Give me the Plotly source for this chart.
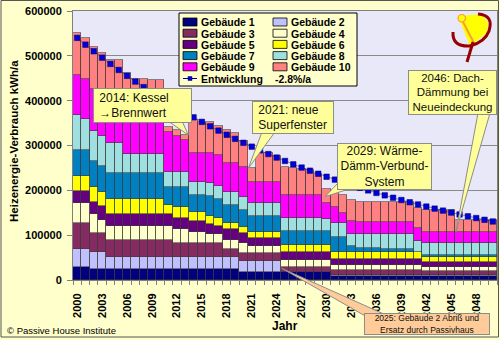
import plotly.graph_objects as go

# ---------------- data (kWh/a) ----------------
years = list(range(2000, 2051))
tick_years = [2000, 2003, 2006, 2009, 2012, 2015, 2018, 2021, 2024, 2027,
              2030, 2033, 2036, 2039, 2042, 2045, 2048]

g1 = [30000, 30000, 24000, 24000, 24000, 24000, 24000, 24000, 24000, 24000,
      24000, 24000, 24000, 24000, 24000, 24000, 24000, 24000, 24000, 24000,
      18600, 18600, 18600, 18600, 18600, 17000, 17000, 17000, 17000, 17000,
      17000, 10000, 10000, 10000, 10000, 10000, 10000, 10000, 10000, 10000,
      10000, 10000, 10000, 10000, 10000, 10000, 10000, 10000, 10000, 10000,
      10000]
g2 = [39000, 39000, 39000, 39000, 27000, 27000, 27000, 27000, 27000, 27000,
      27000, 27000, 27000, 27000, 27000, 27000, 27000, 27000, 27000, 27000,
      24400, 24400, 24400, 24400, 24400, 1500, 1500, 1500, 1500, 1500,
      1500, 1500, 1500, 1500, 1500, 1500, 1500, 1500, 1500, 1500,
      1500, 1500, 1500, 1500, 1500, 1500, 1500, 1500, 1500, 1500,
      1500]
g3 = [59000, 59000, 41000, 41000, 38000, 38000, 38000, 38000, 38000, 38000,
      38000, 38000, 32000, 32000, 32000, 32000, 32000, 32000, 17500, 17500,
      16600, 16600, 16600, 16600, 16600, 11500, 11500, 11500, 11500, 11500,
      11500, 10500, 10500, 10500, 10500, 10500, 10500, 10500, 10500, 10500,
      10500, 10500, 9000, 9000, 9000, 9000, 9000, 9000, 9000, 9000,
      9000]
g4 = [43000, 43000, 43000, 30000, 31600, 31600, 31600, 31600, 31600, 31600,
      31600, 31600, 31000, 31000, 23000, 23000, 20000, 20000, 20500, 20500,
      22400, 17100, 17100, 17100, 17100, 15000, 15000, 15000, 15000, 15000,
      15000, 11500, 11500, 11500, 11500, 11500, 11500, 11500, 11500, 11500,
      11500, 11500, 9500, 9500, 9500, 9500, 9500, 9500, 9500, 9500,
      9500]
g5 = [28000, 28000, 28000, 30000, 26400, 26400, 26400, 26400, 26400, 26400,
      26400, 26400, 25000, 25000, 26500, 26500, 22000, 17600, 24000, 24000,
      22000, 16300, 16300, 16300, 16300, 18000, 18000, 18000, 18000, 18000,
      18000, 13500, 13500, 13500, 13500, 13500, 13500, 13500, 13500, 13500,
      13500, 13500, 10000, 10000, 10000, 10000, 10000, 10000, 10000, 10000,
      10000]
g6 = [34000, 34000, 33000, 32000, 33000, 33000, 33000, 33000, 33000, 33000,
      33000, 20000, 23000, 23000, 19500, 19500, 18000, 17100, 15000, 15000,
      13600, 15000, 15000, 15000, 15000, 14000, 14000, 14000, 14000, 14000,
      14000, 14500, 14500, 14500, 14500, 14500, 14500, 14500, 14500, 14500,
      14500, 14500, 12000, 12000, 12000, 12000, 12000, 12000, 12000, 12000,
      12000]
g7 = [57000, 57000, 58000, 58000, 58000, 58000, 58000, 58000, 58000, 58000,
      58000, 41000, 46000, 46000, 38000, 38000, 45000, 42300, 39000, 39000,
      38400, 35000, 35000, 35000, 35000, 32000, 32000, 32000, 32000, 32000,
      32000, 34000, 34000, 14000, 9000, 9000, 9000, 8000, 8000, 8000,
      8000, 2000, 4000, 4000, 4000, 4000, 4000, 4000, 4000, 4000,
      4000]
g8 = [78000, 69000, 67000, 67000, 68000, 68000, 43000, 43000, 43000, 43000,
      43000, 32000, 32000, 32000, 29000, 29000, 28000, 30000, 30000, 30000,
      30000, 28000, 28000, 28000, 28000, 30000, 30000, 30000, 30000, 30000,
      28000, 31000, 31000, 28000, 31500, 31500, 31500, 32500, 32500, 32500,
      32500, 24500, 27000, 27000, 27000, 27000, 27000, 27000, 27000, 27000,
      27000]
g9 = [90000, 90000, 93000, 90000, 90000, 90000, 90000, 90000, 90000, 90000,
      90000, 90000, 82000, 72000, 64000, 64000, 67000, 69000, 63000, 63000,
      67000, 48000, 48000, 48000, 48000, 50000, 50000, 50000, 50000, 50000,
      35000, 35500, 23500, 28000, 28000, 28000, 28000, 28000, 28000, 28000,
      28000, 27000, 25000, 25000, 25000, 25000, 25000, 25000, 25000, 25000,
      25000]
g10 = [92000, 91000, 94000, 95000, 94000, 94000, 90000, 77000, 77000, 75000,
       75000, 12000, 13000, 12000, 74000, 70000, 69000, 64000, 74000, 67000,
       57000, 30000, 64000, 64000, 57000, 63000, 61000, 59000, 57000, 47000,
       30000, 35000, 40000, 47000, 45000, 45000, 45000, 45000, 43000, 43000,
       43000, 45000, 48000, 48000, 48000, 48000, 26000, 26000, 26000, 26000,
       26000]
trend = [540000, 524900, 510200, 495900, 482000, 468500, 455400, 442600, 430200, 418200,
         406500, 395100, 384000, 373300, 362800, 352700, 342800, 333200, 323900, 314800,
         306000, 297400, 289100, 281000, 273100, 265500, 258000, 250800, 243800, 237000,
         230300, 223900, 217600, 211500, 205600, 199800, 194200, 188800, 183500, 178400,
         173400, 168500, 163800, 159200, 154800, 150400, 146200, 142100, 138200, 134300,
         130500]

names = ["Gebäude 1", "Gebäude 2", "Gebäude 3", "Gebäude 4", "Gebäude 5",
         "Gebäude 6", "Gebäude 7", "Gebäude 8", "Gebäude 9", "Gebäude 10"]
series = [g1, g2, g3, g4, g5, g6, g7, g8, g9, g10]
colors = ["#000080", "#C0C0FF", "#862A62", "#FFFFCC", "#660080",
          "#FFFF00", "#0080C0", "#9FDFDF", "#FF00FF", "#FF8080"]
trend_name = "Entwicklung"
trend_rate = "-2.8%/a"

FONT = "Liberation Sans, Arial, sans-serif"

# ---------------- geometry helpers (pixels -> paper) ----------------
L, R, T, B = 73, 497, 11, 280
W, H = R - L, B - T


def px(x):
    return (x - L) / W


def py(y):
    return (B - y) / H


def path(points):
    return "M " + " L ".join(f"{px(x):.5f},{py(y):.5f}" for x, y in points) + " Z"


fig = go.Figure()
for nm, vals, col in zip(names, series, colors):
    fig.add_trace(go.Bar(x=years, y=vals, name=nm, showlegend=False,
                         marker=dict(color=col, line=dict(color="#3a3a3a", width=0.6))))
fig.add_trace(go.Scatter(x=years, y=trend, name=trend_name, mode="lines+markers",
                         showlegend=False,
                         line=dict(color="#202090", width=0.5),
                         marker=dict(symbol="square", size=5.5, color="#0000DD",
                                     line=dict(color="#000060", width=0.5))))

shapes = []
annotations = []

# outer frame
shapes.append(dict(type="rect", xref="paper", yref="paper", x0=px(1), y0=py(337), x1=px(498.5), y1=py(0.5),
                   line=dict(color="#555555", width=1), layer="above"))

# ---------------- legend (drawn) ----------------
shapes.append(dict(type="rect", xref="paper", yref="paper", x0=px(179), y0=py(86), x1=px(357), y1=py(13),
                   fillcolor="#FFFFCC", line=dict(color="#000000", width=1), layer="above"))
row_y = [22.0, 33.2, 44.4, 55.6, 66.8]
for i, (nm, col) in enumerate(zip(names, colors)):
    r, c = divmod(i, 2)
    x0 = 183 if c == 0 else 273
    yc = row_y[r]
    shapes.append(dict(type="rect", xref="paper", yref="paper", x0=px(x0), x1=px(x0 + 14),
                       y0=py(yc + 4), y1=py(yc - 4), fillcolor=col,
                       line=dict(color="#000000", width=0.8), layer="above"))
    annotations.append(dict(xref="paper", yref="paper", x=px(x0 + 16), y=py(yc + 0.5), text=nm,
                            xanchor="left", yanchor="middle", showarrow=False,
                            font=dict(family=FONT, size=10.5, color="#000", weight="bold")))
ye = 78.5
shapes.append(dict(type="line", xref="paper", yref="paper", x0=px(183), x1=px(197), y0=py(ye), y1=py(ye),
                   line=dict(color="#000080", width=1), layer="above"))
shapes.append(dict(type="rect", xref="paper", yref="paper", x0=px(188), x1=px(192), y0=py(ye + 2), y1=py(ye - 2),
                   fillcolor="#0000DD", line=dict(color="#000060", width=0.5), layer="above"))
annotations.append(dict(xref="paper", yref="paper", x=px(199), y=py(ye + 0.5), text=trend_name,
                        xanchor="left", yanchor="middle", showarrow=False,
                        font=dict(family=FONT, size=10.5, color="#000", weight="bold")))
annotations.append(dict(xref="paper", yref="paper", x=px(273), y=py(ye + 0.5), text=trend_rate,
                        xanchor="left", yanchor="middle", showarrow=False,
                        font=dict(family=FONT, size=10.5, color="#000", weight="bold")))

# ---------------- callouts ----------------
CALL_FILL = "#FFFF99"
CALL_LINE = "#8C8C8C"


def callout(box, text, tail, align="left", fill=CALL_FILL, size=12, pad=2):
    x0, y0, x1, y1 = box
    shapes.append(dict(type="path", xref="paper", yref="paper", path=path(tail),
                       fillcolor=fill, line=dict(color=CALL_LINE, width=1), layer="above"))
    annotations.append(dict(xref="paper", yref="paper", x=px((x0 + x1) / 2), y=py((y0 + y1) / 2),
                            xanchor="center", yanchor="middle",
                            text=text, showarrow=False, align=align, valign="middle",
                            width=(x1 - x0) - 2 * pad - 2, height=(y1 - y0) - 2 * pad - 2,
                            bgcolor=fill, bordercolor=CALL_LINE, borderwidth=1, borderpad=pad,
                            font=dict(family=FONT, size=size, color="#111")))


callout((93, 88, 192, 123), " 2014: Kessel<br> →Brennwert",
        [(188.3, 135), (182, 121), (168, 121)])
callout((252, 101, 334, 134), " 2021: neue<br> Superfenster",
        [(248.3, 168.3), (262, 132), (275, 132)])
callout((337, 143, 432, 190), "2029: Wärme-<br>Dämm-Verbund-<br>System",
        [(325, 196.7), (339, 182), (352, 188)], align="center")
callout((408, 70, 497, 115), "2046: Dach-<br>Dämmung bei<br>Neueindeckung",
        [(456, 231.7), (478, 113), (490, 113)], align="center", size=11.5, pad=1)
callout((364, 313, 490, 335), "2025: Gebäude 2 Abriß und<br>Ersatz durch Passivhaus",
        [(281.7, 268.3), (367, 317), (386, 315)], align="center", fill="#FFCC99", size=8.5, pad=0)

# ---------------- logo ----------------
shapes.append(dict(type="path", xref="paper", yref="paper",
                   path=path([(458, 16), (481, 14), (488, 22), (487, 33), (470, 46)]),
                   fillcolor="#FFFF00", line=dict(color="#FFFF00", width=0), layer="above"))
shapes.append(dict(type="line", xref="paper", yref="paper", x0=px(462), y0=py(20), x1=px(475), y1=py(45),
                   line=dict(color="#FF9933", width=2), layer="above"))
shapes.append(dict(type="path", xref="paper", yref="paper",
                   path=f"M {px(478):.5f},{py(14):.5f} Q {px(494):.5f},{py(15):.5f} {px(489):.5f},{py(31):.5f} "
                        f"Q {px(485):.5f},{py(42):.5f} {px(470):.5f},{py(46):.5f}",
                   line=dict(color="#990000", width=3), layer="above"))
shapes.append(dict(type="path", xref="paper", yref="paper",
                   path=f"M {px(453):.5f},{py(32):.5f} Q {px(452):.5f},{py(47):.5f} {px(470):.5f},{py(46):.5f}",
                   line=dict(color="#990000", width=3), layer="above"))
shapes.append(dict(type="line", xref="paper", yref="paper", x0=px(473), y0=py(42), x1=px(467), y1=py(62),
                   line=dict(color="#990000", width=3), layer="above"))
shapes.append(dict(type="circle", xref="paper", yref="paper", x0=px(458), y0=py(22), x1=px(465.5), y1=py(14.5),
                   fillcolor="#FFFF00", line=dict(color="#FF9933", width=1.2), layer="above"))

# ---------------- texts ----------------
annotations.append(dict(xref="paper", yref="paper", x=px(14), y=py(141), text="Heizenergie-Verbrauch kWh/a",
                        textangle=-90, showarrow=False, xanchor="center", yanchor="middle",
                        font=dict(family=FONT, size=11.5, color="#000", weight="bold")))
annotations.append(dict(xref="paper", yref="paper", x=px(285), y=py(326), text="Jahr",
                        showarrow=False, xanchor="center", yanchor="middle",
                        font=dict(family=FONT, size=12, color="#000", weight="bold")))
annotations.append(dict(xref="paper", yref="paper", x=px(5), y=py(330), text="© Passive House Institute",
                        showarrow=False, xanchor="left", yanchor="middle",
                        font=dict(family=FONT, size=9.5, color="#000")))

fig.update_layout(
    width=500, height=340, autosize=False,
    margin=dict(l=L, r=500 - R, t=T, b=340 - B, pad=0),
    paper_bgcolor="#FFFFCC", plot_bgcolor="#E8E8F8",
    barmode="stack", bargap=0,
    showlegend=False,
    shapes=shapes, annotations=annotations,
    font=dict(family=FONT, color="#000"),
)
fig.update_xaxes(range=[1999.5, 2050.5], tickmode="array", tickvals=tick_years,
                 ticktext=[str(y) for y in tick_years], tickangle=-90,
                 tickfont=dict(family=FONT, size=11, color="#000", weight="bold"),
                 ticks="", showgrid=False, zeroline=False,
                 showline=True, linecolor="#808080", linewidth=1, mirror=True,
                 ticklabelstandoff=8,
                 minor=dict(tickmode="linear", tick0=1999.5, dtick=1, ticks="outside",
                            ticklen=4, tickcolor="#808080", showgrid=False))
fig.update_yaxes(range=[0, 600000], dtick=100000, tickformat="d",
                 tickfont=dict(family=FONT, size=11, color="#000", weight="bold"),
                 ticks="outside", ticklen=5, tickcolor="#808080",
                 showgrid=True, gridcolor="#8A8A8A", gridwidth=1, zeroline=False,
                 showline=True, linecolor="#808080", linewidth=1, mirror=True,
                 ticklabelstandoff=3)

fig.write_html("out.html")
